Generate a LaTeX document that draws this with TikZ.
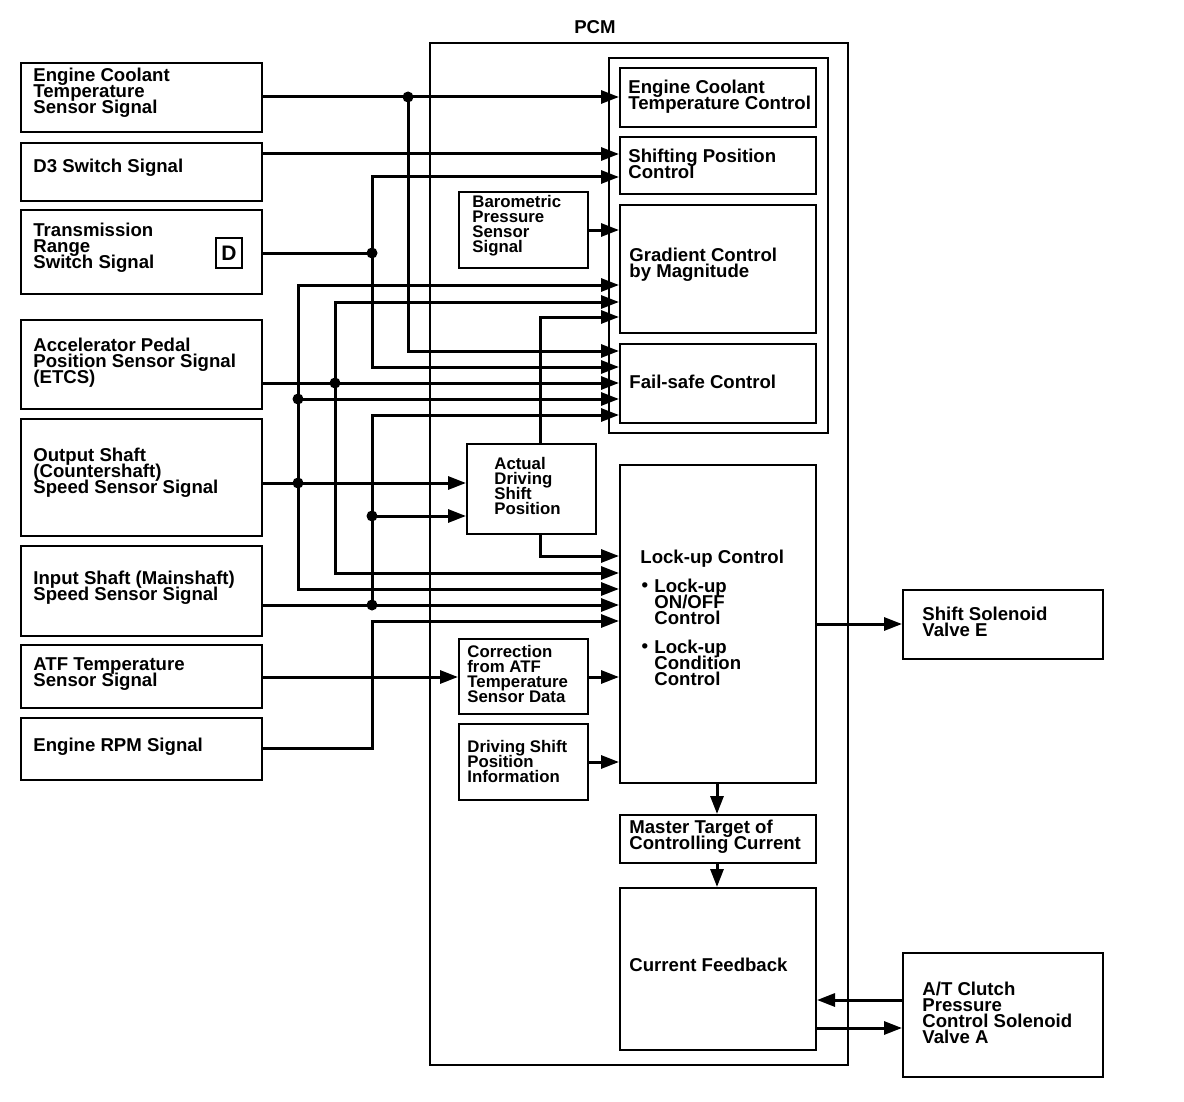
\documentclass[tikz,border=0pt]{standalone}
\usepackage{fontspec}
\setmainfont{Liberation Sans}
\usetikzlibrary{arrows.meta,fit}
\newcommand{\myfontA}{\bfseries\fontsize{9.3}{8}\selectfont\lineskiplimit=-20pt\relax}
\newcommand{\myfontB}{\bfseries\fontsize{8.4}{7.5}\selectfont\lineskiplimit=-20pt\relax}
\begin{document}
\begin{tikzpicture}[x=0.5pt,y=-0.5pt,
  box/.style={draw, line width=1pt, inner sep=0pt},
  thinbox/.style={draw, line width=0.6pt, inner sep=0pt},
  wire/.style={line width=1.5pt},
  arr/.style={wire, -{Triangle[length=9pt,width=6.5pt]}},
  txt/.style={font=\myfontA, align=left, anchor=west, inner sep=0pt},
  stxt/.style={font=\myfontB, align=left, anchor=west, inner sep=0pt},
  jdot/.style={circle, fill, inner sep=0pt, minimum size=5.5pt}
]
\useasboundingbox (0,0) rectangle (1184,1102);

% ---------- left input boxes ----------
\node[box, fit={(21,63) (262,132)}] (ects) {};
\node[box, fit={(21,143) (262,201)}] (d3) {};
\node[box, fit={(21,210) (262,294)}] (trs) {};
\node[thinbox, fit={(216,238) (242,268)}] (dicon) {};
\node[box, fit={(21,320) (262,409)}] (apps) {};
\node[box, fit={(21,419) (262,536)}] (oss) {};
\node[box, fit={(21,546) (262,636)}] (iss) {};
\node[box, fit={(21,645) (262,708)}] (atf) {};
\node[box, fit={(21,718) (262,780)}] (rpm) {};

% ---------- PCM ----------
\node[thinbox, fit={(430,43) (848,1065)}] (pcm) {};
\node[font=\myfontA, inner sep=0pt] (pcmlbl) at (595,27) {PCM};
\node[box, fit={(609,58) (828,433)}] (grp) {};
\node[box, fit={(620,68) (816,127)}] (ectc) {};
\node[box, fit={(620,137) (816,194)}] (spc) {};
\node[box, fit={(620,205) (816,333)}] (gcm) {};
\node[box, fit={(620,344) (816,423)}] (fsc) {};
\node[box, fit={(459,192) (588,268)}] (baro) {};
\node[box, fit={(467,444) (596,534)}] (adsp) {};
\node[box, fit={(620,465) (816,783)}] (luc) {};
\node[box, fit={(459,639) (588,714)}] (corr) {};
\node[box, fit={(459,724) (588,800)}] (dspi) {};
\node[box, fit={(620,815) (816,863)}] (mtcc) {};
\node[box, fit={(620,888) (816,1050)}] (cfb) {};

% ---------- outputs ----------
\node[box, fit={(903,590) (1103,659)}] (sse) {};
\node[box, fit={(903,953) (1103,1077)}] (atc) {};

% ---------- texts ----------
\node[txt] (t1) at (33,93) {Engine Coolant\\Temperature\\Sensor Signal};
\node[txt] (t2) at (33,168) {D3 Switch Signal};
\node[txt] (t3) at (33,248) {Transmission\\Range\\Switch Signal};
\node[font=\bfseries\fontsize{10.5}{10}\selectfont, inner sep=0pt] (tD) at (dicon.center) {D};
\node[txt] (t4) at (33,363) {Accelerator Pedal\\Position Sensor Signal\\(ETCS)};
\node[txt] (t5) at (33,473) {Output Shaft\\(Countershaft)\\Speed Sensor Signal};
\node[txt] (t6) at (33,588) {Input Shaft (Mainshaft)\\Speed Sensor Signal};
\node[txt] (t7) at (33,674) {ATF Temperature\\Sensor Signal};
\node[txt] (t8) at (33,747) {Engine RPM Signal};

\node[txt] (t9) at (628,97) {Engine Coolant\\Temperature Control};
\node[txt] (t10) at (628,164) {Shifting Position\\Control};
\node[stxt] (t11) at (472,226) {Barometric\\Pressure\\Sensor\\Signal};
\node[txt] (t12) at (629,265) {Gradient Control\\by Magnitude};
\node[txt] (t13) at (629,382) {Fail-safe Control};
\node[stxt] (t14) at (494,486) {Actual\\Driving\\Shift\\Position};
\node[txt] (t15) at (640,559) {Lock-up Control};
\node[font=\myfontA, inner sep=0pt] (b1) at (645,587) {\textbullet};
\node[txt] (t16) at (654,602) {Lock-up\\ON/OFF\\Control};
\node[font=\myfontA, inner sep=0pt] (b2) at (645,648) {\textbullet};
\node[txt] (t17) at (654,663) {Lock-up\\Condition\\Control};
\node[stxt] (t18) at (467,674) {Correction\\from ATF\\Temperature\\Sensor Data};
\node[stxt] (t19) at (467,761) {Driving Shift\\Position\\Information};
\node[txt] (t20) at (629,837) {Master Target of\\Controlling Current};
\node[txt] (t21) at (629,965) {Current Feedback};
\node[txt] (t22) at (922,622) {Shift Solenoid\\Valve E};
\node[txt] (t23) at (922,1013) {A/T Clutch\\Pressure\\Control Solenoid\\Valve A};

% ---------- junctions ----------
\coordinate (j1) at (408,97);
\coordinate (j2) at (372,253);
\coordinate (j3) at (335,383);
\coordinate (j4) at (298,483);
\coordinate (j5) at (298,399);
\coordinate (j6) at (372,605);
\coordinate (j7) at (372,516);

% ---------- wires ----------
% Engine coolant
\draw[arr] (ects.east |- j1) -- (ectc.west |- j1);
\draw[arr] (j1) |- (fsc.west |- 0,351);
% D3
\draw[arr] (d3.east |- 0,154) -- (spc.west |- 0,154);
% Transmission range
\draw[wire] (trs.east |- j2) -- (j2);
\draw[arr] (j2) |- (spc.west |- 0,177);
\draw[arr] (j2) |- (fsc.west |- 0,367);
% Barometric
\draw[arr] (baro.east |- 0,230) -- (gcm.west |- 0,230);
% Accelerator pedal
\draw[arr] (apps.east |- j3) -- (fsc.west |- j3);
\draw[arr] (j3) |- (gcm.west |- 0,302);
\draw[arr] (j3) |- (luc.west |- 0,573);
% Output shaft
\draw[arr] (oss.east |- j4) -- (adsp.west |- j4);
\draw[arr] (j4) |- (gcm.west |- 0,285);
\draw[arr] (j4) |- (luc.west |- 0,589);
\draw[arr] (j5) -- (fsc.west |- j5);
% Input shaft
\draw[arr] (iss.east |- j6) -- (luc.west |- j6);
\draw[arr] (j6) |- (fsc.west |- 0,415);
\draw[arr] (j7) -- (adsp.west |- j7);
% Actual driving shift position
\draw[arr] (adsp.north -| 540,0) |- (gcm.west |- 0,317);
\draw[arr] (adsp.south -| 540,0) |- (luc.west |- 0,556);
% Engine RPM
\draw[arr] (rpm.east |- 0,748) -| (372,621) -- (luc.west |- 0,621);
% ATF temperature
\draw[arr] (atf.east |- 0,677) -- (corr.west |- 0,677);
\draw[arr] (corr.east |- 0,677) -- (luc.west |- 0,677);
\draw[arr] (dspi.east |- 0,762) -- (luc.west |- 0,762);
% outputs
\draw[arr] (luc.east |- 0,624) -- (sse.west |- 0,624);
\draw[arr] (luc.south -| 717,0) -- (mtcc.north -| 717,0);
\draw[arr] (mtcc.south -| 717,0) -- (cfb.north -| 717,0);
\draw[arr] (atc.west |- 0,1000) -- (cfb.east |- 0,1000);
\draw[arr] (cfb.east |- 0,1028) -- (atc.west |- 0,1028);

% dots
\foreach \j in {j1,j2,j3,j4,j5,j6,j7} \node[jdot] at (\j) {};
\end{tikzpicture}
\end{document}
